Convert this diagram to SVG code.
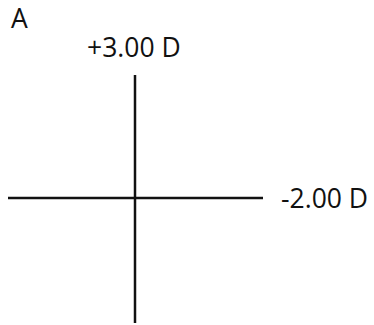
<svg xmlns="http://www.w3.org/2000/svg" width="374" height="325" viewBox="0 0 374 325">
<style>
text{font-family:"Open Sans","Liberation Sans",sans-serif;font-size:26.5px;fill:#111}
.ax{stroke:#111;stroke-width:2.5;fill:none}
</style>
<rect width="374" height="325" fill="#fff"/>
<g id="axes">
<line class="ax" x1="135" y1="75" x2="135" y2="323"/>
<line class="ax" x1="8" y1="198" x2="263" y2="198"/>
</g>
<g id="label-A"><text x="11" y="28">A</text></g>
<g id="label-vertical"><text x="87" y="56.5">+3.00 D</text></g>
<g id="label-horizontal"><text x="281" y="207.5">-2.00 D</text></g>
</svg>
